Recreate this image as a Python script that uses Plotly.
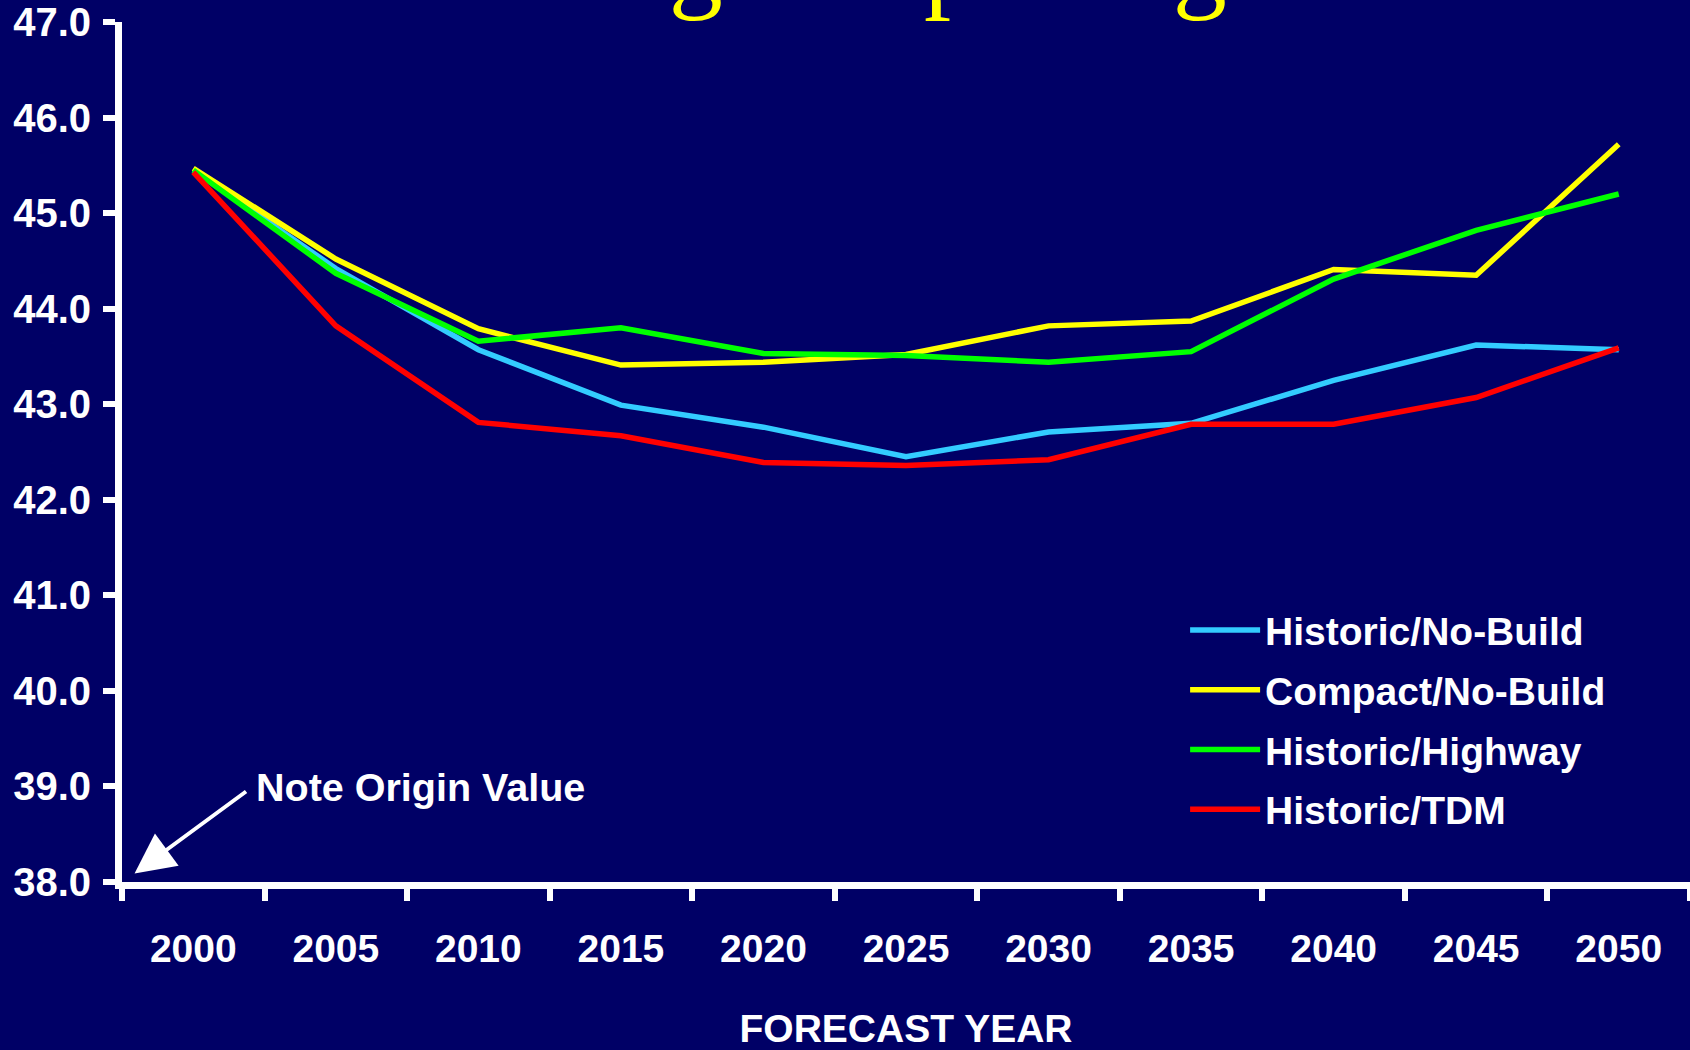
import plotly.graph_objects as go

years = ["2000", "2005", "2010", "2015", "2020", "2025", "2030", "2035", "2040", "2045", "2050"]

historic_no_build = [45.45, 44.42, 43.57, 42.99, 42.76, 42.45, 42.71, 42.80, 43.25, 43.62, 43.57]
compact_no_build = [45.47, 44.52, 43.79, 43.41, 43.44, 43.52, 43.82, 43.87, 44.41, 44.35, 45.72]
historic_highway = [45.45, 44.37, 43.66, 43.80, 43.53, 43.51, 43.44, 43.55, 44.31, 44.82, 45.20]
historic_tdm = [45.43, 43.82, 42.81, 42.67, 42.39, 42.36, 42.42, 42.79, 42.79, 43.07, 43.59]

y_ticks = [38, 39, 40, 41, 42, 43, 44, 45, 46, 47]

series = [
    ("Historic/No-Build", historic_no_build, "#33CCFF"),
    ("Compact/No-Build", compact_no_build, "#FFFF00"),
    ("Historic/Highway", historic_highway, "#00FF00"),
    ("Historic/TDM", historic_tdm, "#FF0000"),
]

BG = "#000066"
FONT = "Liberation Sans, Arial, sans-serif"

fig = go.Figure()
for name, vals, color in series:
    fig.add_trace(
        go.Scatter(
            x=years, y=vals, mode="lines", name=name,
            line=dict(color=color, width=5.5), legendgroup=name,
        )
    )

fig.update_layout(
    width=1690, height=1050,
    paper_bgcolor=BG, plot_bgcolor=BG,
    margin=dict(l=122, r=0, t=19, b=168),
    font=dict(family=FONT, color="white"),
    showlegend=True,
    legend=dict(
        x=0.678, y=0.33, xanchor="left", yanchor="top",
        bgcolor="rgba(0,0,0,0)", itemwidth=70, tracegroupgap=6,
        font=dict(size=39, color="white", family=FONT, weight="bold"),
    ),
    xaxis=dict(
        type="category", tickson="boundaries", range=[-0.5, 10.5],
        showgrid=False, zeroline=False,
        showline=True, linecolor="white", linewidth=7,
        ticks="outside", ticklen=12, tickwidth=6, tickcolor="white",
        ticklabelstandoff=26,
        tickfont=dict(size=39, color="white", family=FONT, weight="bold"),
        title=dict(text="FORECAST YEAR", standoff=51,
                   font=dict(size=39, color="white", family=FONT, weight="bold")),
    ),
    yaxis=dict(
        range=[38, 47.0001], tickvals=y_ticks, tickformat=".1f",
        showgrid=False, zeroline=False, ticklabeloverflow="allow",
        showline=True, linecolor="white", linewidth=7,
        ticks="outside", ticklen=12, tickwidth=6, tickcolor="white",
        ticklabelstandoff=4,
        tickfont=dict(size=40, color="white", family=FONT, weight="bold"),
    ),
)

# title, only its lower edge shows inside the slide
fig.add_annotation(
    text="Average Trip Length", xref="paper", yref="paper",
    x=0.472, y=1.07, xanchor="center", yanchor="middle", showarrow=False,
    font=dict(size=108, color="#FFFF00", family="Liberation Serif, Times New Roman, serif"),
)

fig.add_annotation(
    text="<b>Note Origin Value</b>", xref="paper", yref="paper",
    x=0.084, y=0.11, xanchor="left", yanchor="middle", showarrow=False,
    font=dict(size=39.5, color="white", family=FONT),
)
fig.add_annotation(
    text="", xref="paper", yref="paper", x=0.008, y=0.01,
    showarrow=True, ax=113, ay=-83, arrowhead=2, arrowsize=2,
    arrowwidth=4, arrowcolor="white",
)

fig.write_html(
    "out.html",
    config={"displayModeBar": False},
    post_script="document.body.style.margin='0';",
)
